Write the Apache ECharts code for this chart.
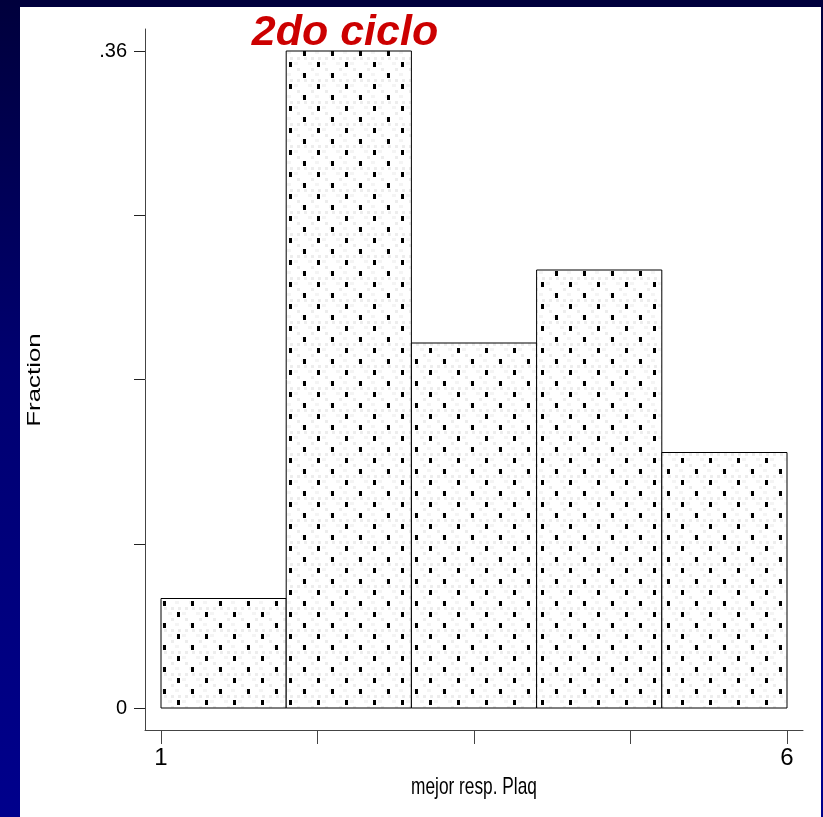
<!DOCTYPE html>
<html>
<head>
<meta charset="utf-8">
<script src="https://cdn.jsdelivr.net/npm/echarts@6/dist/echarts.min.js"></script>
<style>
  html, body { margin: 0; padding: 0; width: 823px; height: 817px; overflow: hidden; }
  body { background: linear-gradient(to bottom, #00003c 0%, #000070 45%, #00008c 100%); position: relative; }
  #panel { position: absolute; left: 20px; top: 7px; width: 801px; height: 810px; background: #ffffff; }
  #chart { position: absolute; left: 0; top: 0; width: 823px; height: 817px; }
</style>
</head>
<body>
<div id="panel"></div>
<div id="chart"></div>
<script>
// ---- data ----
const titleText = '2do ciclo';
const xAxisName = 'mejor resp. Plaq';
const yAxisName = 'Fraction';
const binStart = [1, 2, 3, 4, 5];
const binEnd   = [2, 3, 4, 5, 6];
const fraction = [0.06, 0.36, 0.20, 0.24, 0.14];
const xTicks = [1, 2.25, 3.5, 4.75, 6];
const xTickLabels = [1, 6];
const yTickLabels = { 0: '0', 0.36: '.36' };

// ---- layout (pixels) ----
const plotLeft = 161, plotRight = 787, axisLeft = 145, axisRight = 803;
const xMin = binStart[0], xMax = binEnd[binEnd.length - 1];
const unitPx = (plotRight - plotLeft) / (xMax - xMin);
const padLeft = (plotLeft - axisLeft) / unitPx;
const padRight = (axisRight - plotRight) / unitPx;

// ---- pattern (dotted fill) ----
function makePattern() {
  const c = document.createElement('canvas');
  c.width = 28; c.height = 22;
  const g = c.getContext('2d');
  g.fillStyle = '#ffffff'; g.fillRect(0, 0, 28, 22);
  g.fillStyle = '#ededed';
  [[3, 2], [17, 2], [10, 13], [24, 13], [3, 13], [17, 13]].forEach(p => g.fillRect(p[0], p[1], 3, 3));
  g.fillStyle = '#f4f4f4';
  [[7, 7], [21, 7], [0, 18], [14, 18]].forEach(p => g.fillRect(p[0], p[1], 4, 3));
  g.fillStyle = '#000000';
  g.fillRect(23, 7, 3, 5);
  g.fillRect(9, 18, 3, 4);
  g.fillRect(9, 0, 3, 1);
  return c;
}
const pattern = { image: makePattern(), repeat: 'repeat' };

const histData = binStart.map((s, i) => [s, binEnd[i], fraction[i]]);

const chart = echarts.init(document.getElementById('chart'), null, { renderer: 'canvas' });
const sans = "'Liberation Sans', Arial, sans-serif";

chart.setOption({
  backgroundColor: 'transparent',
  animation: false,
  title: {
    text: titleText,
    left: 340,
    top: 7,
    textAlign: 'center',
    textStyle: {
      color: '#cc0000',
      fontFamily: sans,
      fontWeight: 'bold',
      fontStyle: 'italic',
      fontSize: 43
    }
  },
  grid: [
    { left: plotLeft, right: 823 - plotRight, top: 51, bottom: 109 },
    { left: axisLeft, right: 823 - axisRight, top: 29, bottom: 87 }
  ],
  xAxis: [
    {
      type: 'value', gridIndex: 0, min: xMin, max: xMax,
      axisLine: { show: false }, axisTick: { show: false }, axisLabel: { show: false },
      splitLine: { show: false }
    },
    {
      type: 'value', gridIndex: 1, min: xMin - padLeft, max: xMax + padRight,
      axisLine: { show: true, onZero: false, lineStyle: { color: '#444', width: 1 } },
      axisTick: { show: true, customValues: xTicks, length: 14, lineStyle: { color: '#444', width: 1 } },
      axisLabel: {
        show: true, customValues: xTickLabels,
        margin: 16, color: '#000', fontFamily: sans, fontSize: 24,
        formatter: v => String(v)
      },
      splitLine: { show: false }
    }
  ],
  yAxis: [
    {
      type: 'value', gridIndex: 0, min: 0, max: 0.36, interval: 0.09,
      offset: plotLeft - axisLeft,
      axisLine: { show: false },
      axisTick: { show: true, length: 11, lineStyle: { color: '#222', width: 1 } },
      axisLabel: {
        margin: 18,
        color: '#000',
        fontFamily: sans,
        fontSize: 20,
        formatter: v => {
          const k = Object.keys(yTickLabels).find(t => Math.abs(parseFloat(t) - v) < 1e-9);
          return k !== undefined ? yTickLabels[k] : '';
        }
      },
      splitLine: { show: false }
    },
    {
      type: 'value', gridIndex: 1, min: 0, max: 1,
      axisLine: { show: true, onZero: false, lineStyle: { color: '#444', width: 1 } },
      axisTick: { show: false }, axisLabel: { show: false }, splitLine: { show: false }
    }
  ],
  graphic: [
    {
      type: 'text',
      x: 35, y: 380,
      rotation: Math.PI / 2,
      scaleX: 1.36,
      style: {
        text: yAxisName,
        fill: '#000',
        font: "19px 'Liberation Sans', Arial, sans-serif",
        align: 'center',
        verticalAlign: 'middle'
      }
    },
    {
      type: 'text',
      x: 474, y: 787,
      scaleX: 0.72,
      style: {
        text: xAxisName,
        fill: '#000',
        font: "24px 'Liberation Sans', Arial, sans-serif",
        align: 'center',
        verticalAlign: 'middle'
      }
    }
  ],
  series: [
    {
      type: 'custom',
      xAxisIndex: 0, yAxisIndex: 0,
      data: histData,
      encode: { x: [0, 1], y: 2 },
      renderItem: function (params, api) {
        const p0 = api.coord([api.value(0), api.value(2)]);
        const p1 = api.coord([api.value(1), 0]);
        return {
          type: 'rect',
          shape: { x: p0[0], y: p0[1], width: p1[0] - p0[0], height: p1[1] - p0[1] },
          style: { fill: pattern, stroke: '#000', lineWidth: 1 }
        };
      }
    }
  ]
});
</script>
</body>
</html>
